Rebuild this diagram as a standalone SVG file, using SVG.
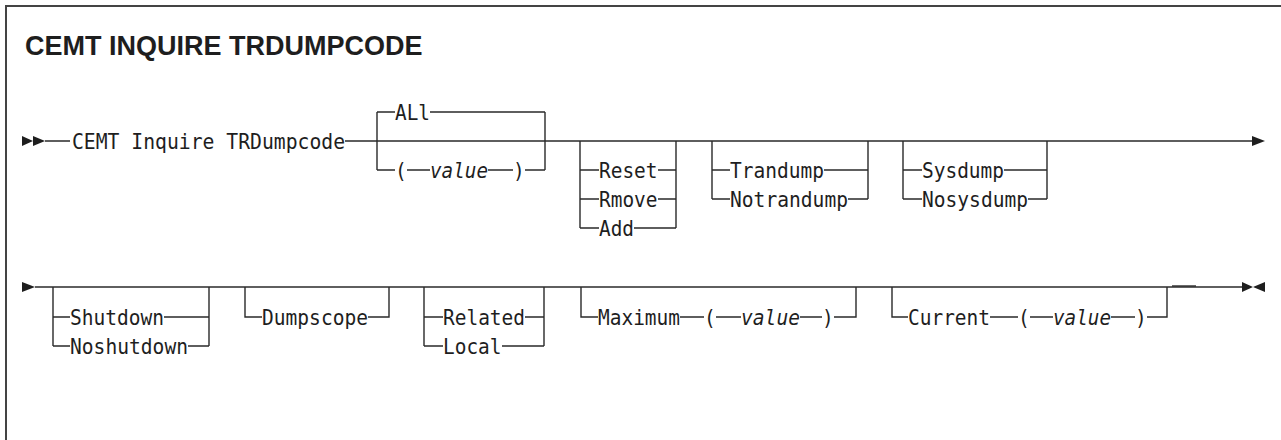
<svg xmlns="http://www.w3.org/2000/svg" width="1281" height="440" viewBox="0 0 1281 440">
<style>
.t{font-family:"DejaVu Sans Mono","Liberation Mono",monospace;font-size:22px;fill:#1e1e1e}
.v{font-style:italic}
.ttl{font-family:"Liberation Sans",Arial,sans-serif;font-weight:bold;font-size:27px;fill:#1e1e1e}
.ln{fill:none;stroke:#2a2a2a;stroke-width:1.4}
.ah{fill:#1e1e1e;stroke:none}
</style>
<rect x="6" y="6" width="1300" height="460" fill="none" stroke="#444" stroke-width="2"/>
<text class="ttl" x="25" y="55">CEMT INQUIRE TRDUMPCODE</text>
<g id="connectors">
<path class="ln" d="M45,141 H70 M345,141 H1252"/>
<path class="ln" d="M377,112 V170 M545,112 V170 M377,112 H395 M430,112 H545 M377,170 H395 M407,170 H430 M488,170 H513 M525,170 H545"/>
<path class="ln" d="M580,141 V228 M676,141 V228 M580,170 H599 M658,170 H676 M580,199 H599 M658,199 H676 M580,228 H599 M634,228 H676"/>
<path class="ln" d="M712,141 V199 M868,141 V199 M712,170 H730 M824,170 H868 M712,199 H730 M848,199 H868"/>
<path class="ln" d="M903,141 V199 M1047,141 V199 M903,170 H922 M1004,170 H1047 M903,199 H922 M1028,199 H1047"/>
<path class="ln" d="M35,287 H1242"/>
<path class="ln" d="M1172,286 H1196"/>
<path class="ln" d="M53,287 V346 M209,287 V346 M53,317 H70 M164,317 H209 M53,346 H70 M188,346 H209"/>
<path class="ln" d="M245,287 V317 H262 M368,317 H389 V287"/>
<path class="ln" d="M424,287 V346 M544,287 V346 M424,317 H443 M525,317 H544 M424,346 H443 M502,346 H544"/>
<path class="ln" d="M581,287 V317 H598 M680,317 H704 M716,317 H741 M800,317 H822 M834,317 H856 V287"/>
<path class="ln" d="M892,287 V317 H908 M990,317 H1018 M1030,317 H1053 M1111,317 H1135 M1147,317 H1167 V287"/>
<polygon class="ah" points="22,136 33,141 22,146"/>
<polygon class="ah" points="33,136 45,141 33,146"/>
<polygon class="ah" points="1252,136 1265,141 1252,146"/>
<polygon class="ah" points="22,282 35,287 22,292"/>
<polygon class="ah" points="1242,282 1253,287 1242,292"/>
<polygon class="ah" points="1265,282 1253,287 1265,292"/>
</g>
<g id="cmd"><text class="t" x="72" y="149" textLength="273" lengthAdjust="spacingAndGlyphs">CEMT Inquire TRDumpcode</text></g>
<g id="all"><text class="t" x="395" y="120" textLength="35" lengthAdjust="spacingAndGlyphs">ALl</text></g>
<g id="value1"><text class="t" x="395" y="178" textLength="11.75" lengthAdjust="spacingAndGlyphs">(</text><text class="t v" x="430" y="178" textLength="58" lengthAdjust="spacingAndGlyphs">value</text><text class="t" x="513" y="178" textLength="11.75" lengthAdjust="spacingAndGlyphs">)</text></g>
<g id="reset"><text class="t" x="599" y="178" textLength="58.5" lengthAdjust="spacingAndGlyphs">Reset</text></g>
<g id="rmove"><text class="t" x="599" y="207" textLength="58.5" lengthAdjust="spacingAndGlyphs">Rmove</text></g>
<g id="add"><text class="t" x="599" y="236" textLength="35" lengthAdjust="spacingAndGlyphs">Add</text></g>
<g id="trandump"><text class="t" x="730" y="178" textLength="94" lengthAdjust="spacingAndGlyphs">Trandump</text></g>
<g id="notrandump"><text class="t" x="730" y="207" textLength="118" lengthAdjust="spacingAndGlyphs">Notrandump</text></g>
<g id="sysdump"><text class="t" x="922" y="178" textLength="82" lengthAdjust="spacingAndGlyphs">Sysdump</text></g>
<g id="nosysdump"><text class="t" x="922" y="207" textLength="106" lengthAdjust="spacingAndGlyphs">Nosysdump</text></g>
<g id="shutdown"><text class="t" x="70" y="325" textLength="94" lengthAdjust="spacingAndGlyphs">Shutdown</text></g>
<g id="noshutdown"><text class="t" x="70" y="354" textLength="118" lengthAdjust="spacingAndGlyphs">Noshutdown</text></g>
<g id="dumpscope"><text class="t" x="262" y="325" textLength="106" lengthAdjust="spacingAndGlyphs">Dumpscope</text></g>
<g id="related"><text class="t" x="443" y="325" textLength="82" lengthAdjust="spacingAndGlyphs">Related</text></g>
<g id="local"><text class="t" x="443" y="354" textLength="58.5" lengthAdjust="spacingAndGlyphs">Local</text></g>
<g id="maximum"><text class="t" x="598" y="325" textLength="82" lengthAdjust="spacingAndGlyphs">Maximum</text><text class="t" x="704" y="325" textLength="11.75" lengthAdjust="spacingAndGlyphs">(</text><text class="t v" x="741" y="325" textLength="59" lengthAdjust="spacingAndGlyphs">value</text><text class="t" x="822" y="325" textLength="11.75" lengthAdjust="spacingAndGlyphs">)</text></g>
<g id="current"><text class="t" x="908" y="325" textLength="82" lengthAdjust="spacingAndGlyphs">Current</text><text class="t" x="1018" y="325" textLength="11.75" lengthAdjust="spacingAndGlyphs">(</text><text class="t v" x="1053" y="325" textLength="58" lengthAdjust="spacingAndGlyphs">value</text><text class="t" x="1135" y="325" textLength="11.75" lengthAdjust="spacingAndGlyphs">)</text></g>
</svg>
